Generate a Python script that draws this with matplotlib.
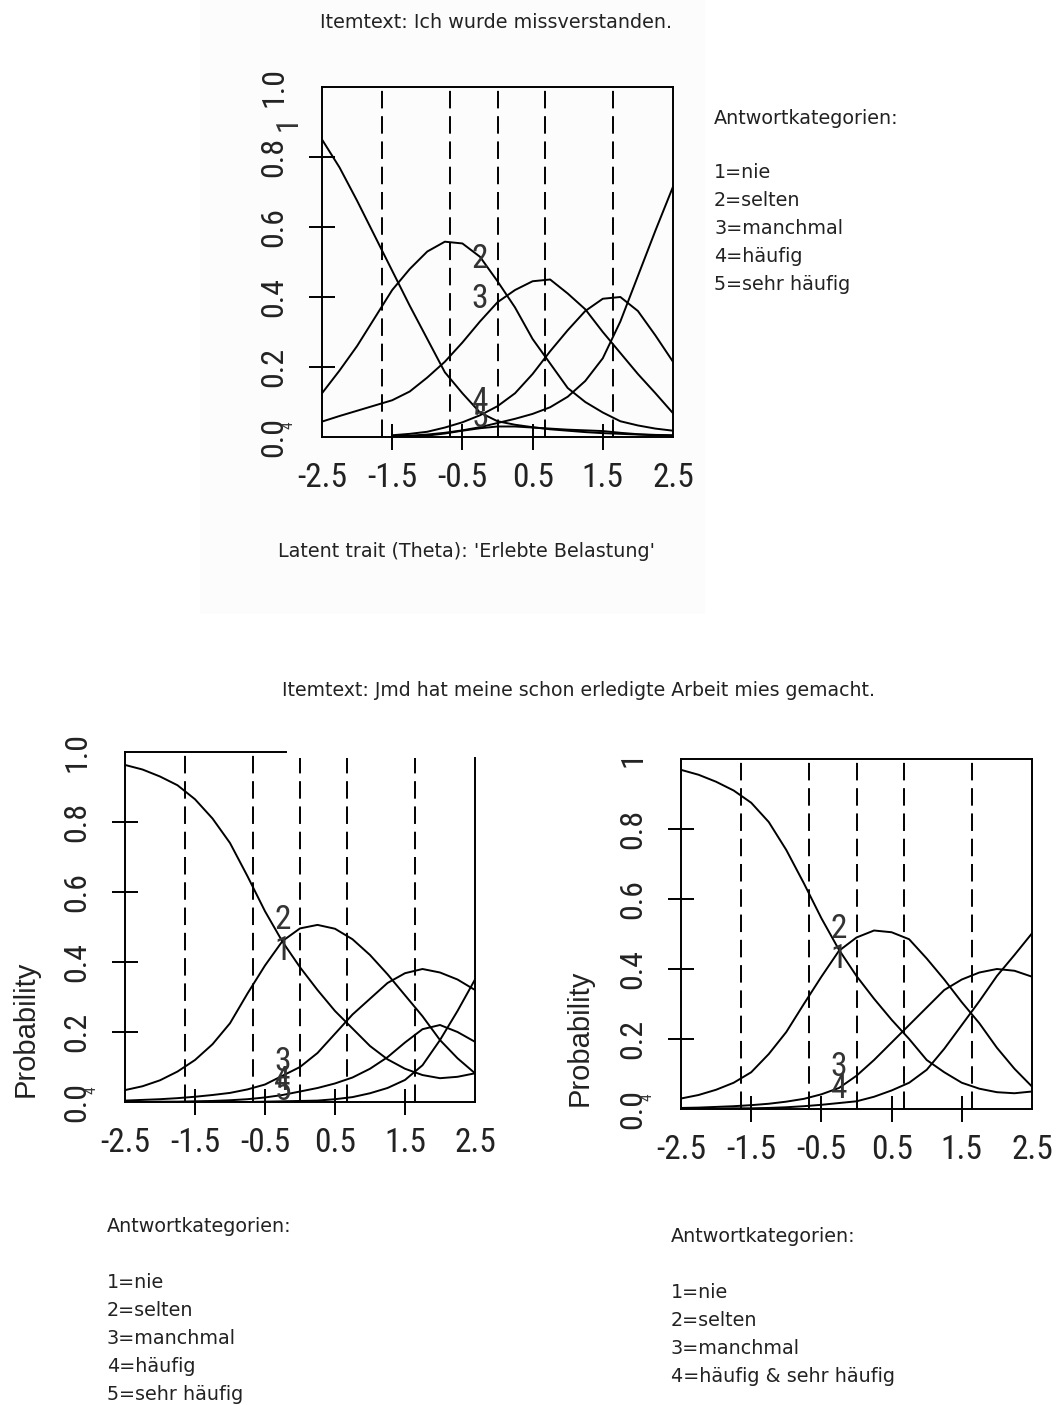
import matplotlib
matplotlib.use('Agg')
import matplotlib.pyplot as plt
from matplotlib.patches import Rectangle
from matplotlib import font_manager as fm

W, H = 1056, 1405
fig = plt.figure(figsize=(W / 100, H / 100), dpi=100)

NAN = float('nan')

# ---------------- data ----------------
theta = [-2.5, -2.25, -2.0, -1.75, -1.5, -1.25, -1.0, -0.75, -0.5, -0.25, 0.0,
         0.25, 0.5, 0.75, 1.0, 1.25, 1.5, 1.75, 2.0, 2.25, 2.5]

# top item: "Ich wurde missverstanden." (5 categories)
top_cat1 = [0.85, 0.77, 0.675, 0.575, 0.475, 0.375, 0.28, 0.185, 0.125, 0.07, 0.045,
            0.035, 0.028, 0.022, 0.018, 0.014, 0.011, 0.009, 0.007, 0.005, 0.004]
top_cat2 = [0.125, 0.19, 0.26, 0.34, 0.42, 0.48, 0.53, 0.558, 0.553, 0.515, 0.445,
            0.37, 0.28, 0.21, 0.14, 0.10, 0.07, 0.045, 0.033, 0.024, 0.018]
top_cat3 = [0.044, 0.06, 0.075, 0.09, 0.105, 0.13, 0.17, 0.215, 0.27, 0.33, 0.385,
            0.42, 0.445, 0.45, 0.41, 0.365, 0.30, 0.24, 0.18, 0.125, 0.068]
top_cat4 = [NAN, NAN, NAN, NAN, 0.005, 0.009, 0.015, 0.027, 0.042, 0.062, 0.088,
            0.125, 0.18, 0.245, 0.305, 0.36, 0.395, 0.40, 0.36, 0.29, 0.215]
top_cat5 = [NAN, NAN, NAN, NAN, 0.002, 0.004, 0.007, 0.012, 0.019, 0.028, 0.04,
            0.052, 0.066, 0.085, 0.115, 0.16, 0.225, 0.33, 0.46, 0.59, 0.715]
top_extra = [NAN, NAN, NAN, NAN, NAN, 0.0, 0.004, 0.01, 0.018, 0.025, 0.03,
             0.03, 0.027, 0.024, 0.021, 0.019, 0.017, 0.012, 0.008, 0.006, 0.005]

# bottom-left item: 5 categories
bl_cat1 = [0.963, 0.95, 0.93, 0.905, 0.865, 0.81, 0.74, 0.645, 0.545, 0.458, 0.385,
           0.32, 0.26, 0.21, 0.16, 0.122, 0.095, 0.077, 0.068, 0.072, 0.082]
bl_cat2 = [0.034, 0.045, 0.062, 0.087, 0.12, 0.165, 0.225, 0.31, 0.39, 0.46, 0.496,
           0.506, 0.495, 0.465, 0.42, 0.365, 0.305, 0.245, 0.177, 0.125, 0.082]
bl_cat3 = [0.004, 0.006, 0.008, 0.011, 0.015, 0.02, 0.026, 0.036, 0.05, 0.075, 0.10,
           0.14, 0.195, 0.25, 0.295, 0.34, 0.368, 0.38, 0.37, 0.35, 0.32]
bl_cat4 = [0.0, 0.0, 0.001, 0.001, 0.002, 0.003, 0.005, 0.008, 0.013, 0.02, 0.03,
           0.04, 0.053, 0.07, 0.095, 0.128, 0.17, 0.208, 0.22, 0.20, 0.172]
bl_cat5 = [0.0, 0.0, 0.0, 0.0, 0.0, 0.0, 0.0, 0.0, 0.001, 0.002, 0.003,
           0.004, 0.008, 0.014, 0.025, 0.04, 0.063, 0.105, 0.177, 0.26, 0.35]

# bottom-right item: 4 categories
br_cat1 = [0.969, 0.955, 0.935, 0.91, 0.875, 0.82, 0.74, 0.645, 0.545, 0.455, 0.38,
           0.315, 0.255, 0.20, 0.14, 0.105, 0.075, 0.058, 0.048, 0.045, 0.05]
br_cat2 = [0.03, 0.04, 0.055, 0.075, 0.105, 0.157, 0.22, 0.30, 0.378, 0.452, 0.49,
           0.51, 0.505, 0.485, 0.43, 0.37, 0.305, 0.245, 0.175, 0.115, 0.064]
br_cat3 = [0.003, 0.004, 0.006, 0.008, 0.011, 0.015, 0.021, 0.029, 0.042, 0.06, 0.095,
           0.14, 0.19, 0.24, 0.29, 0.34, 0.37, 0.39, 0.40, 0.395, 0.378]
br_cat4 = [0.0, 0.0, 0.001, 0.002, 0.002, 0.003, 0.005, 0.008, 0.012, 0.017, 0.022,
           0.035, 0.053, 0.075, 0.112, 0.172, 0.24, 0.308, 0.38, 0.44, 0.502]

quantiles = [-1.645, -0.674, 0.0, 0.674, 1.645]

xtick_vals = [-2.5, -1.5, -0.5, 0.5, 1.5, 2.5]
xtick_labels = ['-2.5', '-1.5', '-0.5', '0.5', '1.5', '2.5']
ytick_vals = [0.0, 0.2, 0.4, 0.6, 0.8, 1.0]
ytick_labels_a = ['0.0', '0.2', '0.4', '0.6', '0.8', '1.0']
ytick_labels_b = ['0.0', '0.2', '0.4', '0.6', '0.8', '1']

title_top = "Itemtext: Ich wurde missverstanden."
title_bottom = "Itemtext: Jmd hat meine schon erledigte Arbeit mies gemacht."
xlabel_top = "Latent trait (Theta): 'Erlebte Belastung'"
ylabel_bottom = "Probability"
legend_head = "Antwortkategorien:"
legend5 = ["1=nie", "2=selten", "3=manchmal", "4=häufig", "5=sehr häufig"]
legend4 = ["1=nie", "2=selten", "3=manchmal", "4=häufig & sehr häufig"]

# ---------------- fonts ----------------
def find_narrow():
    prefs = ['liberationsansnarrow-regular', 'arialn', 'robotocondensed-regular',
             'dejavusanscondensed.ttf', 'opensans_condensed', 'narrow', 'condensed']
    files = [f.fname for f in fm.fontManager.ttflist]
    try:
        files += list(fm.findSystemFonts())
    except Exception:
        pass
    low = [(p.lower(), p) for p in files]
    for key in prefs:
        for lp, p in low:
            base = lp.rsplit('/', 1)[-1]
            if key in base and 'bold' not in base and 'italic' not in base \
                    and 'oblique' not in base:
                return p
    return None


NARROW_FILE = find_narrow()


def nfont(size):
    if NARROW_FILE:
        return fm.FontProperties(fname=NARROW_FILE, size=size)
    return fm.FontProperties(family=['Liberation Sans', 'DejaVu Sans'], size=size * 0.85)


SANS = ['DejaVu Sans']
LW = 1.4
DASH = (0, (9.0, 4.0))
TXT = '#222222'


def px_axes(l, t, r, b):
    return fig.add_axes([l / W, 1 - b / H, (r - l) / W, (b - t) / H])


def ftext(x, y, s, **kw):
    kw.setdefault('va', 'center')
    kw.setdefault('family', SANS)
    kw.setdefault('color', TXT)
    return fig.text(x / W, 1 - y / H, s, **kw)


def setup(ax, curves, ylabels):
    for c in curves:
        ax.plot(theta, c, color='black', lw=LW, solid_joinstyle='round')
    ax.set_xlim(-2.5, 2.5)
    ax.set_ylim(0, 1)
    ax.set_xticks(xtick_vals)
    ax.set_xticklabels(xtick_labels, fontproperties=nfont(24), color=TXT)
    ax.set_yticks(ytick_vals)
    ax.set_yticklabels(ylabels, fontproperties=nfont(23), rotation=90,
                       va='center', color=TXT)
    ax.tick_params(axis='both', direction='inout', length=18.5, width=LW)
    ax.tick_params(axis='x', pad=9)
    ax.tick_params(axis='y', pad=15)
    for t in (ax.xaxis.get_major_ticks()[0], ax.xaxis.get_major_ticks()[-1],
              ax.yaxis.get_major_ticks()[0], ax.yaxis.get_major_ticks()[-1]):
        t.tick1line.set_visible(False)
    for s in ax.spines.values():
        s.set_linewidth(LW)
    ax.patch.set_alpha(0)


def curve_labels(ax, items):
    for s, yv in items:
        ax.text(-0.25, yv, s, fontproperties=nfont(24), ha='center', va='center',
                color='#333333')


# faint background of the upper screenshot
fig.patches.append(Rectangle((200 / W, 1 - 614 / H), 505 / W, 614 / H,
                             transform=fig.transFigure, facecolor='#fcfcfc',
                             edgecolor='none', zorder=-10))

# ---------------- top panel ----------------
ax1 = px_axes(322, 87, 673, 437)
setup(ax1, [top_cat1, top_cat2, top_cat3, top_cat4, top_cat5, top_extra], ytick_labels_a)
for q in quantiles:
    ax1.axvline(q, color='black', lw=LW, ls=DASH)
curve_labels(ax1, (('2', 0.51), ('3', 0.395), ('4', 0.10), ('5', 0.055)))
ax1.text(-2.98, 0.035, '4', fontproperties=nfont(11), rotation=90, ha='center',
         va='center', color='#333333', clip_on=False)
ax1.text(-2.98, 0.895, '1', fontproperties=nfont(22), rotation=90, ha='center',
         va='center', color='#333333', clip_on=False)

ftext(496, 22, title_top, ha='center', fontsize=13.8)
ftext(714, 118, legend_head, fontsize=13.8)
for i, s in enumerate(legend5):
    ftext(714, 173 + 28 * i, s, fontsize=13.8)
ftext(466, 552, xlabel_top, ha='center', fontsize=13.8)

# ---------------- bottom-left panel ----------------
ax2 = px_axes(125, 752, 475, 1102)
setup(ax2, [bl_cat1, bl_cat2, bl_cat3, bl_cat4, bl_cat5], ytick_labels_a)
ax2.spines['top'].set_visible(False)
ax2.spines['right'].set_bounds(0, 0.983)
ax2.plot([-2.5, -0.2], [1.0, 1.0], color='black', lw=LW, clip_on=False)
for i, q in enumerate(quantiles):
    ax2.axvline(q, ymax=(1.0 if i < 2 else 0.983), color='black', lw=LW, ls=DASH)
curve_labels(ax2, (('2', 0.52), ('1', 0.43), ('3', 0.115), ('4', 0.06), ('5', 0.03)))
ax2.text(-2.98, 0.035, '4', fontproperties=nfont(11), rotation=90, ha='center',
         va='center', color='#333333', clip_on=False)
ax2.set_ylabel(ylabel_bottom, family=['Liberation Sans', 'DejaVu Sans'], fontsize=21,
               color=TXT)
ax2.yaxis.set_label_coords(-0.245, 0.209)

ftext(578, 691, title_bottom, ha='center', fontsize=13.6)
ftext(107, 1227, legend_head, fontsize=13.8)
for i, s in enumerate(legend5):
    ftext(107, 1282 + 28 * i, s, fontsize=13.8)

# ---------------- bottom-right panel ----------------
ax3 = px_axes(681, 759, 1032, 1109)
setup(ax3, [br_cat1, br_cat2, br_cat3, br_cat4], ytick_labels_b)
for q in quantiles:
    ax3.axvline(q, color='black', lw=LW, ls=DASH)
curve_labels(ax3, (('2', 0.515), ('1', 0.43), ('3', 0.12), ('4', 0.058)))
ax3.text(-2.98, 0.035, '4', fontproperties=nfont(11), rotation=90, ha='center',
         va='center', color='#333333', clip_on=False)
ax3.set_ylabel(ylabel_bottom, family=['Liberation Sans', 'DejaVu Sans'], fontsize=21,
               color=TXT)
ax3.yaxis.set_label_coords(-0.25, 0.203)

ftext(671, 1236, legend_head, fontsize=13.8)
for i, s in enumerate(legend4):
    ftext(671, 1292 + 28 * i, s, fontsize=13.8)

fig.savefig('out.png', dpi=100, facecolor='white')
